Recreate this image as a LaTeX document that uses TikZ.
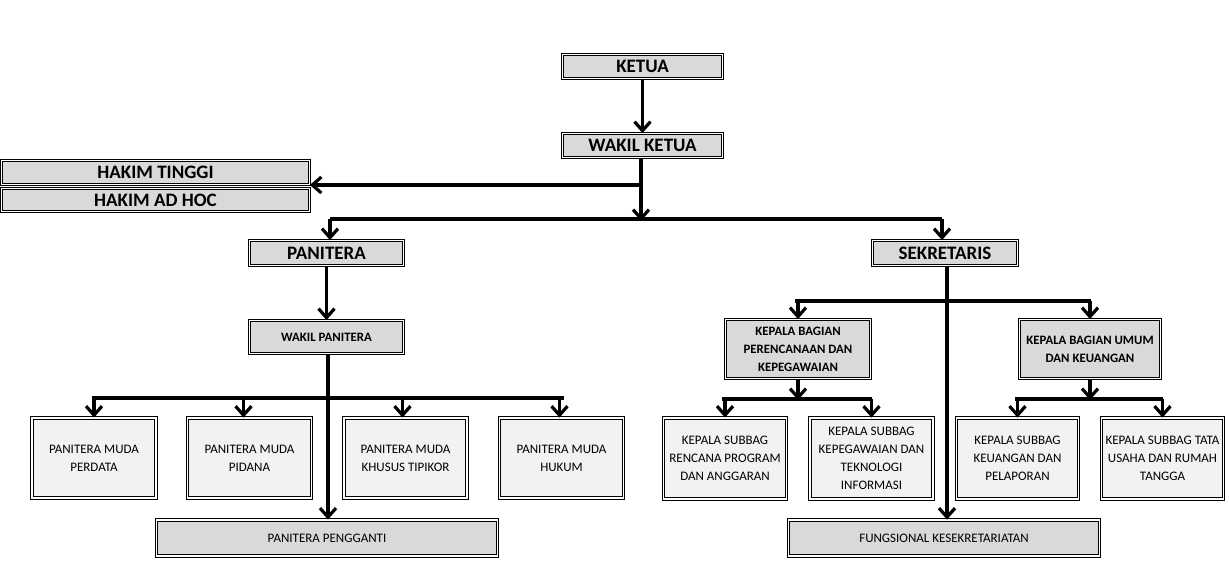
\documentclass[tikz,border=0pt]{standalone}
\usepackage{fontspec}
\setmainfont{Carlito}
\usetikzlibrary{arrows.meta}
\definecolor{boxgray}{HTML}{D9D9D9}
\definecolor{lightgray}{HTML}{F2F2F2}
\begin{document}
\begin{tikzpicture}[x=1pt,y=-1pt,
  box/.style={draw, double, double distance=1.6pt, line width=0.9pt, inner sep=0pt, align=center, text=black},
  mainbox/.style={box, fill=boxgray, font=\fontsize{19}{22}\selectfont\bfseries},
  midbox/.style={box, fill=boxgray, font=\fontsize{12.8}{18}\selectfont\bfseries},
  subbox/.style={box, fill=lightgray, font=\fontsize{13}{18}\selectfont},
  botbox/.style={box, fill=boxgray, font=\fontsize{13}{15}\selectfont},
  conn/.style={line width=3.2pt},
  arr/.style={conn, -{Straight Barb[length=9pt,width=16pt]}}]
\useasboundingbox (0,0) rectangle (1229,577);
% top
\node[mainbox, minimum width=160, minimum height=24] (ketua) at (642.5,66.5) {KETUA};
\node[mainbox, minimum width=160, minimum height=24] (wketua) at (642.5,145.5) {WAKIL KETUA};
\node[mainbox, minimum width=308, minimum height=24] (hakim1) at (155.5,172.5) {HAKIM TINGGI};
\node[mainbox, minimum width=308, minimum height=23] (hakim2) at (155.5,200) {HAKIM AD HOC};
\node[mainbox, minimum width=154, minimum height=25] (panitera) at (326.5,253) {PANITERA};
\node[mainbox, minimum width=145, minimum height=25] (sekretaris) at (945,253) {SEKRETARIS};
\node[midbox, minimum width=154, minimum height=33] (wpanitera) at (326.5,337) {WAKIL PANITERA};
% panitera muda
\node[subbox, minimum width=124, minimum height=80] (pm1) at (94,458) {PANITERA MUDA\\PERDATA};
\node[subbox, minimum width=124, minimum height=80] (pm2) at (249.5,458) {PANITERA MUDA\\PIDANA};
\node[subbox, minimum width=123, minimum height=80] (pm3) at (405.5,458) {PANITERA MUDA\\KHUSUS TIPIKOR};
\node[subbox, minimum width=124, minimum height=80] (pm4) at (561.5,458) {PANITERA MUDA\\HUKUM};
\node[botbox, minimum width=341, minimum height=36] (pp) at (327,538) {PANITERA PENGGANTI};
% sekretaris side
\node[midbox, minimum width=145, minimum height=59] (kb1) at (798,349) {KEPALA BAGIAN\\PERENCANAAN DAN\\KEPEGAWAIAN};
\node[midbox, minimum width=141, minimum height=59] (kb2) at (1090,349) {KEPALA BAGIAN UMUM\\DAN KEUANGAN};
\node[subbox, minimum width=123, minimum height=81] (sb1) at (725,458.5) {KEPALA SUBBAG\\RENCANA PROGRAM\\DAN ANGGARAN};
\node[subbox, minimum width=123, minimum height=81] (sb2) at (871.5,458.5) {KEPALA SUBBAG\\KEPEGAWAIAN DAN\\TEKNOLOGI\\INFORMASI};
\node[subbox, minimum width=122, minimum height=81] (sb3) at (1017.5,458.5) {KEPALA SUBBAG\\KEUANGAN DAN\\PELAPORAN};
\node[subbox, minimum width=122, minimum height=81] (sb4) at (1162.5,458.5) {KEPALA SUBBAG TATA\\USAHA DAN RUMAH\\TANGGA};
\node[botbox, minimum width=311, minimum height=36] (fk) at (944,538) {FUNGSIONAL KESEKRETARIATAN};
% connectors top
\draw[arr] (ketua.south) -- (wketua.north);
\coordinate (j1) at (641,185);
\coordinate (bar1) at (641,219);
\draw[conn] (wketua.south -| j1) -- (j1);
\draw[arr] (j1) -- (j1 -| hakim1.east);
\draw[arr] (j1) -- ([yshift=-2pt]bar1);
\coordinate (b1l) at (330,219);
\coordinate (b1r) at (942,219);
\draw[conn] (b1l) -- (b1r);
\draw[arr] (b1l) -- (b1l |- panitera.north);
\draw[arr] (b1r) -- (b1r |- sekretaris.north);
% panitera side
\draw[arr] (panitera.south) -- (wpanitera.north);
\draw[arr] (wpanitera.south -| 328,0) -- (pp.north -| 328,0);
\coordinate (b2l) at (92,398);
\coordinate (b2r) at (564,398);
\draw[conn] (b2l) -- (b2r);
\draw[arr] (pm1.north |- b2l) -- (pm1.north);
\draw[arr] ([xshift=-6pt]pm2.north |- b2l) -- ([xshift=-6pt]pm2.north);
\draw[arr] ([xshift=-3pt]pm3.north |- b2l) -- ([xshift=-3pt]pm3.north);
\draw[arr] ([xshift=-2pt]pm4.north |- b2l) -- ([xshift=-2pt]pm4.north);
% sekretaris side
\draw[arr] (sekretaris.south -| 947,0) -- (fk.north -| 947,0);
\coordinate (b3l) at (795,301);
\coordinate (b3r) at (1091,301);
\draw[conn] (b3l) -- (b3r);
\draw[arr] (kb1.north |- b3l) -- (kb1.north);
\draw[arr] (kb2.north |- b3l) -- (kb2.north);
\coordinate (b4l) at (722,399);
\coordinate (b4r) at (872,399);
\draw[conn] (b4l) -- (b4r);
\draw[arr] (kb1.south) -- ([yshift=-1pt]kb1.south |- b4l);
\draw[arr] (sb1.north |- b4l) -- (sb1.north);
\draw[arr] (sb2.north |- b4l) -- (sb2.north);
\coordinate (b5l) at (1015,399);
\coordinate (b5r) at (1163,399);
\draw[conn] (b5l) -- (b5r);
\draw[arr] (kb2.south) -- ([yshift=-1pt]kb2.south |- b5l);
\draw[arr] (sb3.north |- b5l) -- (sb3.north);
\draw[arr] (sb4.north |- b5l) -- (sb4.north);
\end{tikzpicture}
\end{document}
